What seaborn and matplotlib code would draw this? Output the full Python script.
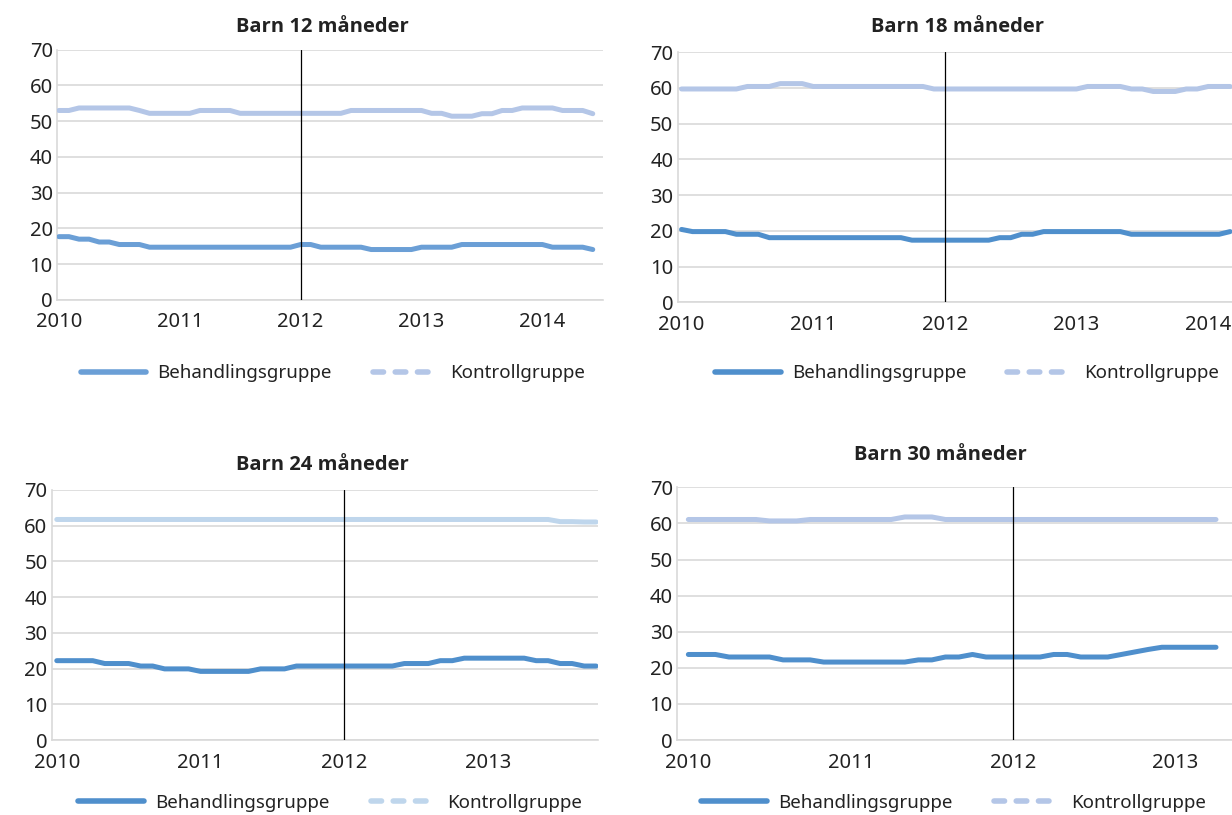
import pandas as pd
import seaborn as sns
import matplotlib.pyplot as plt
from matplotlib.lines import Line2D

# monthly shares, first value = January 2010
beh_12 = [17.7, 17.7, 17.0, 17.0, 16.2, 16.2, 15.5, 15.5, 15.5] + [14.75] * 15 + \
         [15.5, 15.5] + [14.75] * 5 + [14.1] * 5 + [14.75] * 4 + [15.5] * 9 + [14.75] * 4 + [14.1]
kon_12 = [53.0, 53.0] + [53.7] * 6 + [53.0] + [52.2] * 5 + [53.0] * 4 + [52.2] * 11 + \
         [53.0] * 8 + [52.2, 52.2, 51.4, 51.4, 51.4, 52.1, 52.1, 53.0, 53.0] + [53.7] * 4 + [53.0] * 3 + [52.1]

beh_18 = [20.4] + [19.8] * 4 + [19.05] * 3 + [18.1] * 13 + [17.4] * 8 + [18.1, 18.1, 19.05, 19.05] + \
         [19.8] * 8 + [19.05] * 9 + [19.8]
kon_18 = [59.7] * 6 + [60.4] * 3 + [61.2] * 3 + [60.4] * 11 + [59.7] * 14 + [60.4] * 4 + \
         [59.7, 59.7, 59.0, 59.0, 59.0, 59.7, 59.7, 60.4, 60.4, 60.4]

beh_24 = [22.2] * 4 + [21.4] * 3 + [20.7] * 2 + [19.9] * 3 + [19.2] * 5 + [19.9] * 3 + [20.7] * 9 + \
         [21.4] * 3 + [22.2] * 2 + [22.9] * 6 + [22.2, 22.2, 21.4, 21.4, 20.7, 20.7]
kon_24 = [61.7] * 42 + [61.1, 61.1, 61.0, 61.0]

beh_30 = [23.7] * 3 + [23.0] * 4 + [22.2] * 3 + [21.6] * 7 + [22.2, 22.2, 23.0, 23.0, 23.7] + [23.0] * 5 + \
         [23.7, 23.7, 23.0, 23.0, 23.0, 23.7, 24.4, 25.1] + [25.7] * 5
kon_30 = [61.1] * 6 + [60.7] * 3 + [61.1] * 7 + [61.8] * 3 + [61.1] * 21

titles = ['Barn 12 måneder', 'Barn 18 måneder', 'Barn 24 måneder', 'Barn 30 måneder']
groups = ['Behandlingsgruppe', 'Kontrollgruppe']
series = [(beh_12, kon_12), (beh_18, kon_18), (beh_24, kon_24), (beh_30, kon_30)]
colors = [('#6b9fd6', '#b4c6e7'), ('#4f8fcc', '#b4c6e7'), ('#4f8fcc', '#bfd6ec'), ('#4f8fcc', '#b4c6e7')]

# layout (figure fractions) and x-limits per panel
axes_rect = [[0.0463, 0.632, 0.443, 0.307], [0.550, 0.629, 0.452, 0.307],
             [0.042, 0.092, 0.443, 0.307], [0.5495, 0.092, 0.452, 0.310]]
xlims = [(2009.985, 2014.5), (2009.97, 2014.2), (2009.965, 2013.76), (2009.93, 2013.36)]
xticks = [[2010, 2011, 2012, 2013, 2014], [2010, 2011, 2012, 2013, 2014],
          [2010, 2011, 2012, 2013], [2010, 2011, 2012, 2013]]
legend_pos = [(0.27, 0.542), (0.785, 0.542), (0.268, 0.015), (0.774, 0.015)]
title_pos = [(0.262, 0.967), (0.777, 0.967), (0.262, 0.429), (0.763, 0.442)]

sns.set_style('white')
plt.rcParams['font.family'] = ['Noto Sans', 'DejaVu Sans']

fig = plt.figure(figsize=(12.32, 8.15), dpi=100)

for k in range(4):
    beh, kon = series[k]
    df = pd.concat([
        pd.DataFrame({'year': [2010 + i / 12 for i in range(len(beh))], 'value': beh, 'gruppe': groups[0]}),
        pd.DataFrame({'year': [2010 + i / 12 for i in range(len(kon))], 'value': kon, 'gruppe': groups[1]}),
    ])
    ax = fig.add_axes(axes_rect[k])
    pal = {groups[0]: colors[k][0], groups[1]: colors[k][1]}
    sns.lineplot(data=df, x='year', y='value', hue='gruppe', palette=pal, linewidth=3.6,
                 ax=ax, legend=False, zorder=3)
    ax.axvline(2012, color='black', linewidth=0.9, zorder=4)
    ax.set_xlim(*xlims[k])
    ax.set_ylim(0, 70)
    ax.set_yticks(range(0, 71, 10))
    ax.set_xticks(xticks[k])
    ax.set_xticklabels([str(t) for t in xticks[k]])
    ax.yaxis.grid(True, color='#d9d9d9', linewidth=1.2)
    ax.set_axisbelow(True)
    ax.set_xlabel('')
    ax.set_ylabel('')
    for s in ['top', 'right']:
        ax.spines[s].set_visible(False)
    for s in ['left', 'bottom']:
        ax.spines[s].set_color('#d9d9d9')
        ax.spines[s].set_linewidth(1.2)
    ax.tick_params(axis='both', length=0, labelsize=14.5, colors='#222222')
    ax.tick_params(axis='x', pad=9)
    ax.tick_params(axis='y', pad=3)
    fig.text(title_pos[k][0], title_pos[k][1], titles[k], ha='center', va='center',
             fontsize=14.5, fontweight='bold', color='#222222',
             family=['Open Sans', 'DejaVu Sans'])

    handles = [Line2D([0], [0], color=colors[k][0], lw=4, solid_capstyle='round'),
               Line2D([0], [0], color=colors[k][1], lw=4, linestyle=(0, (1.9, 2.1)), dash_capstyle='round')]
    fig.legend(handles, groups, loc='center', bbox_to_anchor=legend_pos[k], ncol=2, frameon=False,
               fontsize=13.5, handlelength=3.5, columnspacing=2.2, handletextpad=0.6,
               labelcolor='#222222')

fig.savefig('out.png', dpi=100)
